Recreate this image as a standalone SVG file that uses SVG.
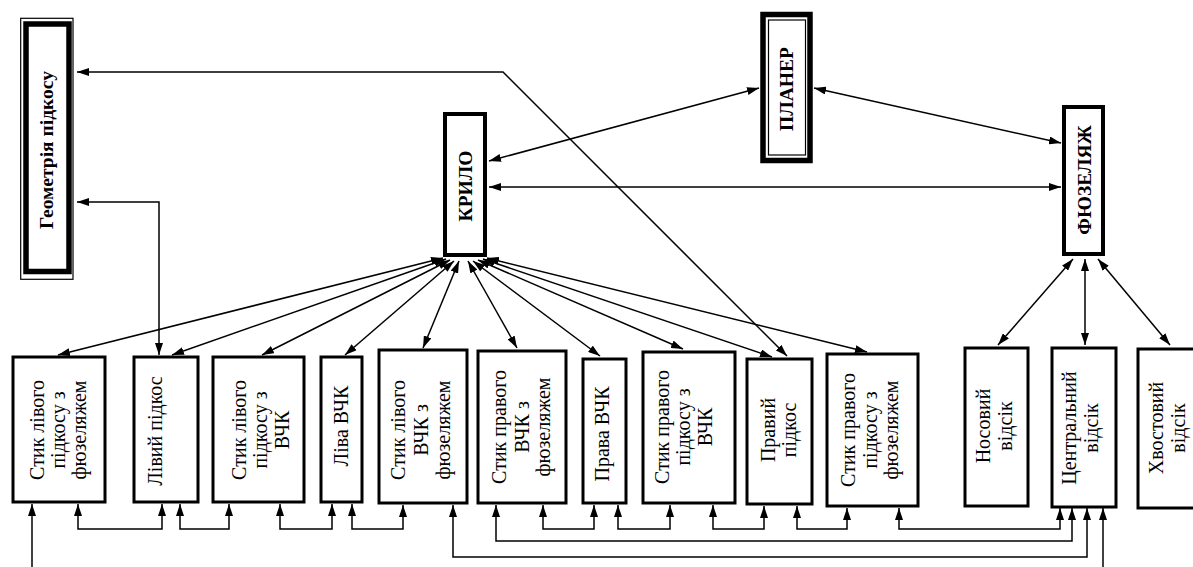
<svg xmlns="http://www.w3.org/2000/svg" width="1193" height="567" viewBox="0 0 1193 567">
<defs>
<marker id="ah" markerUnits="userSpaceOnUse" markerWidth="12" markerHeight="8" refX="12" refY="4" orient="auto-start-reverse">
<path d="M0,0 L12,4 L0,8 z" fill="#000"/>
</marker>
<style>
.box{fill:#fff;stroke:#000;stroke-width:3}
.tb{fill:#fff;stroke:#000;stroke-width:4}
.thin{fill:none;stroke:#000;stroke-width:1.2}
.thick{fill:none;stroke:#000;stroke-width:5.5}
.t{font-family:"Liberation Serif","Times New Roman",serif;font-size:20px;fill:#000;text-anchor:middle}
.b{font-weight:bold;font-size:19.5px}
.c{fill:none;stroke:#000;stroke-width:1.5}
.d{marker-start:url(#ah);marker-end:url(#ah)}
.e{marker-end:url(#ah)}
</style>
</defs>
<rect width="1193" height="567" fill="#fff"/>

<g id="connectors">
<path class="c d" d="M787,356 L503,72 L77,72"/>
<path class="c d" d="M77,202 L159,202 L159,355"/>
<path class="c d" d="M489,161 L759,88"/>
<path class="c d" d="M489,187 L1061,187"/>
<path class="c d" d="M814,88 L1061,143"/>
<path class="c d" d="M1073,259 L998,345"/>
<path class="c d" d="M1085,259 L1085,345"/>
<path class="c d" d="M1098,259 L1170,345"/>
<path class="c d" d="M443,258 L58,355"/>
<path class="c d" d="M446,259 L172,355"/>
<path class="c d" d="M450,260 L262,355"/>
<path class="c d" d="M454,261 L345,355"/>
<path class="c d" d="M459,261 L423,348"/>
<path class="c d" d="M468,261 L517,348"/>
<path class="c d" d="M473,261 L600,356"/>
<path class="c d" d="M478,260 L683,349"/>
<path class="c d" d="M483,259 L772,357"/>
<path class="c d" d="M487,258 L867,352"/>
<path class="c e" d="M32,567 L32,504"/>
<path class="c d" d="M78,504 V529 H162 V504"/>
<path class="c d" d="M180,504 V529 H229 V504"/>
<path class="c d" d="M280,504 V529 H332 V504"/>
<path class="c d" d="M352,504 V529 H403 V505"/>
<path class="c d" d="M453,505 V557 H1087 V508"/>
<path class="c d" d="M496,505 V541 H1072 V508"/>
<path class="c d" d="M543,505 V529 H594 V505"/>
<path class="c d" d="M618,505 V529 H670 V505"/>
<path class="c d" d="M713,505 V529 H764 V506"/>
<path class="c d" d="M797,506 V529 H847 V508"/>
<path class="c d" d="M899,508 V529 H1060 V508"/>
<path class="c e" d="M1103,567 V508"/>
</g>

<g id="geometria">
<rect class="thin" x="20.7" y="18.3" width="52.3" height="261"/>
<rect class="thick" x="26" y="24" width="43" height="247.5"/>
<text class="t b" transform="translate(0,150) rotate(-90)"><tspan x="0" y="53">Геометрія підкосу</tspan></text>
</g>

<g id="planer">
<rect class="thick" x="763" y="14.5" width="47" height="146"/>
<rect class="thin" x="768.5" y="20" width="37" height="135"/>
<text class="t b" transform="translate(0,89) rotate(-90)"><tspan x="0" y="793">ПЛАНЕР</tspan></text>
</g>

<g id="krylo">
<rect class="tb" x="445" y="114" width="40" height="141"/>
<text class="t b" transform="translate(0,186) rotate(-90)"><tspan x="0" y="472">КРИЛО</tspan></text>
</g>

<g id="fuzelyazh">
<rect class="tb" x="1064" y="107" width="39" height="147"/>
<text class="t b" transform="translate(0,180) rotate(-90)"><tspan x="0" y="1091">ФЮЗЕЛЯЖ</tspan></text>
</g>

<g id="b1">
<rect class="box" x="13" y="357" width="92" height="145"/>
<text class="t" transform="translate(0,430) rotate(-90)"><tspan x="0" y="44">Стик лівого</tspan><tspan x="0" y="65">підкосу з</tspan><tspan x="0" y="86">фюзеляжем</tspan></text>
</g>
<g id="b2">
<rect class="box" x="134" y="357" width="64" height="145"/>
<text class="t" transform="translate(0,431) rotate(-90)"><tspan x="0" y="162">Лівий підкос</tspan></text>
</g>
<g id="b3">
<rect class="box" x="213" y="357" width="91" height="145"/>
<text class="t" transform="translate(0,430) rotate(-90)"><tspan x="0" y="246">Стик лівого</tspan><tspan x="0" y="267">підкосу з</tspan><tspan x="0" y="289">ВЧК</tspan></text>
</g>
<g id="b4">
<rect class="box" x="321" y="357" width="41" height="145"/>
<text class="t" transform="translate(0,426) rotate(-90)"><tspan x="0" y="348">Ліва ВЧК</tspan></text>
</g>
<g id="b5">
<rect class="box" x="379" y="350" width="88" height="153"/>
<text class="t" transform="translate(0,430) rotate(-90)"><tspan x="0" y="405">Стик лівого</tspan><tspan x="0" y="428">ВЧК з</tspan><tspan x="0" y="450">фюзеляжем</tspan></text>
</g>
<g id="b6">
<rect class="box" x="478" y="351" width="88" height="152"/>
<text class="t" transform="translate(0,427) rotate(-90)"><tspan x="0" y="506">Стик правого</tspan><tspan x="0" y="529">ВЧК з</tspan><tspan x="0" y="550">фюзеляжем</tspan></text>
</g>
<g id="b7">
<rect class="box" x="583" y="359" width="43" height="144"/>
<text class="t" transform="translate(0,434) rotate(-90)"><tspan x="0" y="609">Права ВЧК</tspan></text>
</g>
<g id="b8">
<rect class="box" x="643" y="352" width="92" height="151"/>
<text class="t" transform="translate(0,427) rotate(-90)"><tspan x="0" y="669">Стик правого</tspan><tspan x="0" y="690">підкосу з</tspan><tspan x="0" y="712">ВЧК</tspan></text>
</g>
<g id="b9">
<rect class="box" x="747" y="359" width="65" height="145"/>
<text class="t" transform="translate(0,430) rotate(-90)"><tspan x="0" y="775">Правий</tspan><tspan x="0" y="796">підкос</tspan></text>
</g>
<g id="b10">
<rect class="box" x="827" y="354" width="91" height="152"/>
<text class="t" transform="translate(0,430) rotate(-90)"><tspan x="0" y="855">Стик правого</tspan><tspan x="0" y="877">підкосу з</tspan><tspan x="0" y="898">фюзеляжем</tspan></text>
</g>
<g id="b11">
<rect class="box" x="965" y="348" width="63" height="158"/>
<text class="t" transform="translate(0,426) rotate(-90)"><tspan x="0" y="990">Носовий</tspan><tspan x="0" y="1012">відсік</tspan></text>
</g>
<g id="b12">
<rect class="box" x="1052" y="348" width="64" height="159"/>
<text class="t" transform="translate(0,428) rotate(-90)"><tspan x="0" y="1076">Центральний</tspan><tspan x="0" y="1098">відсік</tspan></text>
</g>
<g id="b13">
<rect class="box" x="1138" y="349" width="70" height="159"/>
<text class="t" transform="translate(0,428) rotate(-90)"><tspan x="0" y="1163">Хвостовий</tspan><tspan x="0" y="1185">відсік</tspan></text>
</g>
</svg>
